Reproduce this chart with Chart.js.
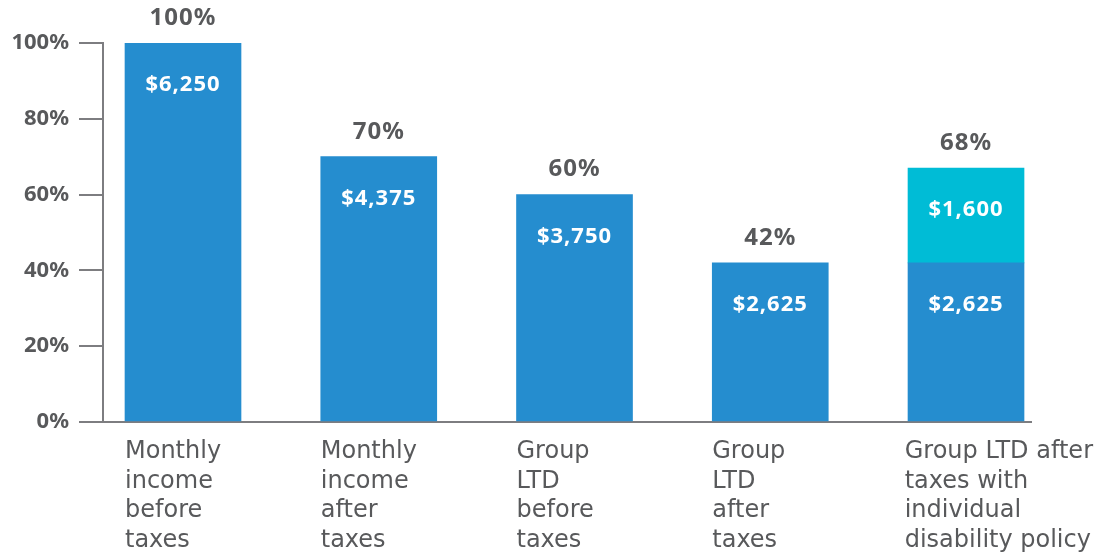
<!DOCTYPE html>
<html>
<head>
<meta charset="utf-8">
<script src="https://cdn.jsdelivr.net/npm/chart.js@4"></script>
<style>
  html, body { margin: 0; padding: 0; background: #fff; }
  #wrap { width: 1096px; height: 554px; position: relative; }
</style>
</head>
<body>
<div id="wrap"><canvas id="myChart"></canvas></div>
<script>
// chart data
const categories = [
	["Monthly", "income", "before", "taxes"],
	["Monthly", "income", "after", "taxes"],
	["Group", "LTD", "before", "taxes"],
	["Group", "LTD", "after", "taxes"],
	["Group LTD after", "taxes with", "individual", "disability policy"]
];
const baseValues = [100, 70, 60, 42, 42];      // % of monthly income
const topUpValues = [null, null, null, null, 25]; // individual policy part
const totalLabels = ["100%", "70%", "60%", "42%", "68%"];
const baseDollars = ["$6,250", "$4,375", "$3,750", "$2,625", "$2,625"];
const topUpDollars = [null, null, null, null, "$1,600"];
const yTicks = [0, 20, 40, 60, 80, 100];

const textGray = "#58595b";
const axisGray = "#7d7d80";
const fontFamily = "'Noto Sans', sans-serif";
const catFont = "'DejaVu Sans', sans-serif";

const labelPlugin = {
	id: 'labelPlugin',
	afterDatasetsDraw(chart) {
		const ctx = chart.ctx;
		const x = chart.scales.x;
		const y = chart.scales.y;
		const baseMeta = chart.getDatasetMeta(0);
		const topMeta = chart.getDatasetMeta(1);
		ctx.save();
		ctx.textAlign = 'center';
		ctx.textBaseline = 'middle';

		// $ amounts inside the bars
		ctx.fillStyle = '#ffffff';
		ctx.font = "bold 22px " + fontFamily;
		ctx.letterSpacing = '1px';
		baseMeta.data.forEach((bar, i) => {
			ctx.fillText(baseDollars[i], bar.x, bar.y + 42);
		});
		topMeta.data.forEach((bar, i) => {
			if (topUpDollars[i] && topUpValues[i] != null) {
				ctx.fillText(topUpDollars[i], bar.x, bar.y + 42);
			}
		});

		// % totals above the bars
		ctx.fillStyle = textGray;
		ctx.font = "bold 24px " + fontFamily;
		baseValues.forEach((v, i) => {
			const total = v + (topUpValues[i] || 0);
			ctx.fillText(totalLabels[i], x.getPixelForValue(i), y.getPixelForValue(total) - 25);
		});

		// category labels under the axis, left aligned with the bar
		ctx.letterSpacing = '0px';
		ctx.textAlign = 'left';
		ctx.font = "24px " + catFont;
		categories.forEach((lines, i) => {
			let left = x.getPixelForValue(i) - 58;
			const widest = Math.max(...lines.map(l => ctx.measureText(l).width));
			if (left + widest > chart.width - 3) left = chart.width - 3 - widest;
			lines.forEach((line, j) => {
				ctx.fillText(line, left, y.bottom + 30 + j * 29.5);
			});
		});
		ctx.restore();
	}
};

const ctx = document.getElementById('myChart');
const myChart = new Chart(ctx, {
	type: 'bar',
	data: {
		datasets: [{
			label: 'Group LTD',
			data: baseValues.map((v, i) => ({ x: i, y: v })),
			backgroundColor: '#258dcf',
			barThickness: 116
		}, {
			label: 'Individual disability policy',
			data: topUpValues.map((v, i) => ({ x: i, y: v })),
			backgroundColor: '#00bcd6',
			barThickness: 116
		}]
	},
	options: {
		responsive: true,
		maintainAspectRatio: false,
		animation: false,
		layout: {
			padding: { top: 43, right: 65, left: 0, bottom: 0 }
		},
		plugins: {
			legend: { display: false },
			tooltip: { enabled: false }
		},
		scales: {
			x: {
				type: 'linear',
				offset: false,
				stacked: true,
				min: -0.4087,
				max: 4.332,
				afterFit(scale) { scale.height = 132; },
				afterBuildTicks(scale) { scale.ticks = baseValues.map((v, i) => ({ value: i })); },
				grid: { display: false, offset: false },
				border: { display: true, color: axisGray, width: 2 },
				ticks: { display: false }
			},
			y: {
				stacked: true,
				min: 0,
				max: 100,
				afterFit(scale) { scale.width = 103; },
				afterBuildTicks(scale) { scale.ticks = yTicks.map(v => ({ value: v })); },
				grid: {
					drawOnChartArea: false,
					drawTicks: true,
					tickLength: 24,
					color: axisGray,
					lineWidth: 2
				},
				border: { display: true, color: axisGray, width: 2 },
				ticks: {
					padding: 10,
					color: textGray,
					font: { family: fontFamily, size: 22, weight: 'bold' },
					callback: (v) => v + '%'
				}
			}
		}
	},
	plugins: [labelPlugin]
});
</script>
</body>
</html>
